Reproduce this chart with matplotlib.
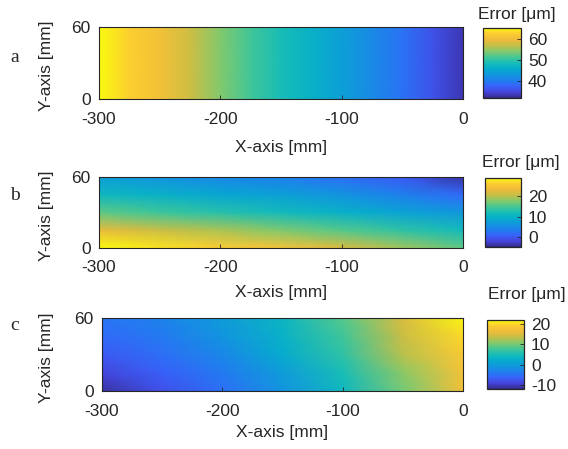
import numpy as np
import matplotlib
matplotlib.use("Agg")
import matplotlib.pyplot as plt
from matplotlib.colors import LinearSegmentedColormap

# ---------------- data ----------------
x_a = [-300, -275, -250, -225, -200, -175, -150, -125, -100, -75, -50, -25, 0]
y_a = [0, 60]
err_a = [65, 62.5, 60.5, 57.5, 54, 51, 48.5, 46.5, 44, 41.5, 39, 36, 33.5]

x_bc = [-300, -250, -200, -150, -100, -50, 0]
y_bc = [0, 15, 30, 45, 60]
err_b = [
    [29.0, 27.5, 26.0, 24.5, 22.0, 19.0, 16.0],
    [23.0, 21.0, 19.5, 17.5, 15.5, 13.5, 11.5],
    [16.0, 14.5, 13.0, 11.5, 10.0, 8.0, 6.5],
    [11.0, 10.0, 8.5, 7.5, 6.0, 3.5, 1.5],
    [7.5, 6.0, 4.5, 3.5, 2.0, 0.0, -4.0],
]
err_c = [
    [-11.0, -8.0, -5.0, -1.0, 4.0, 10.0, 17.0],
    [-9.0, -6.5, -4.0, 0.0, 5.0, 11.0, 17.5],
    [-7.0, -5.0, -2.5, 2.0, 6.5, 13.0, 18.5],
    [-5.5, -4.0, -1.0, 3.0, 7.5, 14.0, 20.0],
    [-4.5, -3.0, 0.0, 3.5, 8.5, 15.0, 21.5],
]
clims = [(32, 65), (-5, 29), (-12, 22)]
cticks = [[40, 50, 60], [0, 10, 20], [-10, 0, 10, 20]]
xticks = [-300, -200, -100, 0]
yticks = [0, 60]
panel_letters = ["a", "b", "c"]

# ---------------- parula-like colormap ----------------
parula_anchors = [
    (0.00, (0.208, 0.166, 0.529)),
    (0.08, (0.270, 0.260, 0.850)),
    (0.17, (0.220, 0.390, 0.990)),
    (0.25, (0.120, 0.500, 0.930)),
    (0.33, (0.070, 0.590, 0.870)),
    (0.42, (0.020, 0.680, 0.800)),
    (0.50, (0.090, 0.740, 0.720)),
    (0.58, (0.260, 0.780, 0.590)),
    (0.67, (0.520, 0.790, 0.420)),
    (0.75, (0.760, 0.750, 0.280)),
    (0.83, (0.930, 0.730, 0.230)),
    (0.92, (0.990, 0.800, 0.200)),
    (1.00, (0.976, 0.983, 0.054)),
]
parula = LinearSegmentedColormap.from_list("parula", parula_anchors)

W, H = 568, 449
plt.rcParams["font.family"] = ["Liberation Sans", "DejaVu Sans"]
plt.rcParams["axes.unicode_minus"] = False
fig = plt.figure(figsize=(W / 100, H / 100), dpi=100)

def rect(l, t, r, b):
    return [l / W, 1 - b / H, (r - l) / W, (b - t) / H]

ax_px = [(99, 27, 463, 99), (99, 177, 463, 248), (102, 318, 463, 391)]
cb_px = [(483, 28, 521, 98), (485, 178, 521, 247), (487, 320, 524, 389)]
cbt_px = [(517, 15), (521, 163), (527, 295)]
xl_y = [148, 292, 432]
let_y = [57, 195, 325]

frame = "#262626"
fs = 12.5

datasets = [
    (x_a, y_a, np.tile(np.array(err_a), (2, 1))),
    (x_bc, y_bc, np.array(err_b)),
    (x_bc, y_bc, np.array(err_c)),
]

for i, (xs, ys, Z) in enumerate(datasets):
    ax = fig.add_axes(rect(*ax_px[i]))
    X, Y = np.meshgrid(xs, ys)
    m = ax.pcolormesh(X, Y, Z, shading="gouraud", cmap=parula,
                      vmin=clims[i][0], vmax=clims[i][1])
    ax.set_xlim(-300, 0)
    ax.set_ylim(0, 60)
    ax.set_xticks(xticks)
    ax.set_yticks(yticks)
    ax.tick_params(direction="in", length=3, width=0.6, colors=frame,
                   labelsize=fs, labelcolor="#262626")
    ax.tick_params(axis="x", pad=9)
    ax.tick_params(axis="y", pad=6)
    for s in ax.spines.values():
        s.set_color(frame)
        s.set_linewidth(0.8)

    cx = (ax_px[i][0] + ax_px[i][2]) / 2
    cy = (ax_px[i][1] + ax_px[i][3]) / 2
    fig.text(cx / W, 1 - xl_y[i] / H, "X-axis [mm]", ha="center", va="center",
             fontsize=fs, color="#262626")
    fig.text(47 / W, 1 - (cy + 3) / H, "Y-axis [mm]", ha="center", va="center",
             rotation=90, fontsize=fs, color="#262626")
    fig.text(15 / W, 1 - let_y[i] / H, panel_letters[i], ha="center", va="center",
             fontsize=14, family=["Liberation Serif", "DejaVu Serif"], color="#262626")

    cax = fig.add_axes(rect(*cb_px[i]))
    cb = fig.colorbar(m, cax=cax)
    cb.set_ticks(cticks[i])
    cb.outline.set_edgecolor(frame)
    cb.outline.set_linewidth(0.9)
    cax.tick_params(direction="in", length=3, width=0.6, colors=frame,
                    labelsize=fs, labelcolor="#262626", pad=5)
    fig.text(cbt_px[i][0] / W, 1 - cbt_px[i][1] / H, "Error [\u03bcm]",
             ha="center", va="center", fontsize=fs, color="#262626")

fig.savefig("out.png", dpi=100)
